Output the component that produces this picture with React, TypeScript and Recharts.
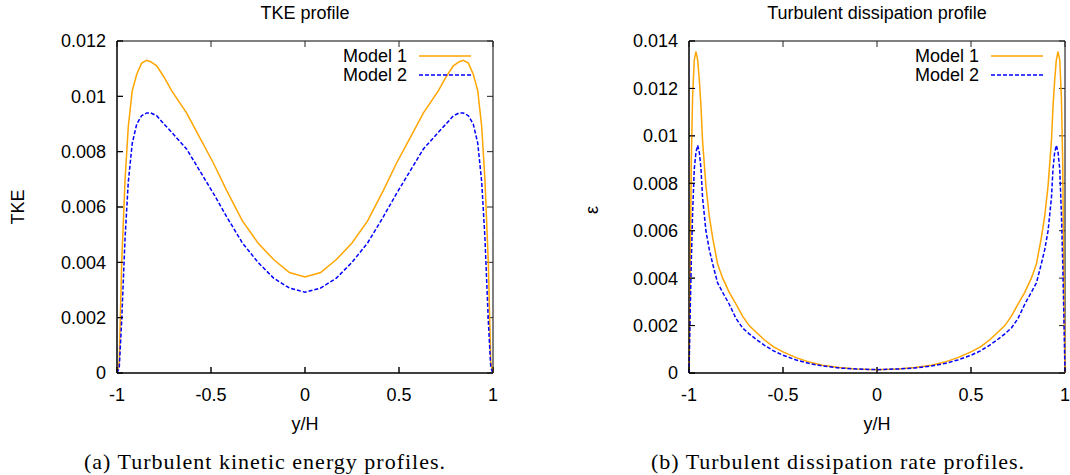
import React from 'react';
import { LineChart, Line, XAxis, YAxis, Legend, ReferenceArea, ReferenceLine } from 'recharts';

// TKE profile (left panel)
const tkePos = [
  -1, -0.988, -0.975, -0.957, -0.94, -0.919, -0.895, -0.869, -0.842, -0.821, -0.789,
  -0.75, -0.709, -0.63, -0.559, -0.488, -0.417, -0.333, -0.25, -0.167, -0.083, 0,
  0.083, 0.167, 0.25, 0.333, 0.417, 0.488, 0.559, 0.63, 0.709, 0.75, 0.789, 0.821,
  0.842, 0.869, 0.895, 0.919, 0.94, 0.957, 0.975, 0.988, 1,
];
const tkeModel1 = [
  0, 0.0004, 0.004, 0.007, 0.0089, 0.0102, 0.0108, 0.0112, 0.0113, 0.01125, 0.0111,
  0.0107, 0.0102, 0.0094, 0.0085, 0.0076, 0.0066, 0.0055, 0.0047, 0.0041, 0.00363, 0.00347,
  0.00363, 0.0041, 0.0047, 0.0055, 0.0066, 0.0076, 0.0085, 0.0094, 0.0102, 0.0107, 0.0111, 0.01125,
  0.0113, 0.0112, 0.0108, 0.0102, 0.0089, 0.007, 0.004, 0.0004, 0,
];
const tkeModel2 = [
  0, 0.0002, 0.0019, 0.0049, 0.0069, 0.0083, 0.009, 0.0093, 0.0094, 0.0094, 0.0093,
  0.009, 0.0087, 0.0081, 0.0073, 0.0065, 0.00565, 0.0047, 0.004, 0.00343, 0.00307, 0.00292,
  0.00307, 0.00343, 0.004, 0.0047, 0.00565, 0.0065, 0.0073, 0.0081, 0.0087, 0.009, 0.0093, 0.0094,
  0.0094, 0.0093, 0.009, 0.0083, 0.0069, 0.0049, 0.0019, 0.0002, 0,
];
const tkeTicks = [0, 0.002, 0.004, 0.006, 0.008, 0.01, 0.012];

// dissipation profile (right panel)
const epsPos = [
  -1, -0.993, -0.988, -0.981, -0.972, -0.963, -0.954, -0.945, -0.936, -0.928, -0.91,
  -0.892, -0.874, -0.848, -0.821, -0.786, -0.75, -0.715, -0.68, -0.64, -0.6, -0.55,
  -0.5, -0.43, -0.36, -0.29, -0.2, -0.11, 0,
  0.11, 0.2, 0.29, 0.36, 0.43, 0.5, 0.55, 0.6, 0.64, 0.68, 0.715, 0.75, 0.786, 0.821,
  0.848, 0.874, 0.892, 0.91, 0.928, 0.936, 0.945, 0.954, 0.963, 0.972, 0.981, 0.988, 0.993, 1,
];
const epsModel1 = [
  0, 0.0046, 0.0088, 0.0116, 0.0132, 0.01355, 0.0132, 0.01235, 0.0112, 0.0098, 0.0079,
  0.0066, 0.0057, 0.0046, 0.004, 0.0034, 0.0029, 0.0024, 0.002, 0.0017, 0.0014, 0.0011,
  0.00089, 0.00065, 0.00046, 0.00033, 0.00023, 0.00017, 0.00014,
  0.00017, 0.00023, 0.00033, 0.00046, 0.00065, 0.00089, 0.0011, 0.0014, 0.0017, 0.002, 0.0024, 0.0029, 0.0034, 0.004,
  0.0046, 0.0057, 0.0066, 0.0079, 0.0098, 0.0112, 0.01235, 0.0132, 0.01355, 0.0132, 0.0116, 0.0088, 0.0046, 0,
];
const epsModel2 = [
  0, 0.0028, 0.0046, 0.0067, 0.0086, 0.0093, 0.0096, 0.0093, 0.0086, 0.0074, 0.006,
  0.0052, 0.0046, 0.0038, 0.0034, 0.0029, 0.0023, 0.0019, 0.00165, 0.0014, 0.00118, 0.00093,
  0.00075, 0.00055, 0.0004, 0.0003, 0.00021, 0.00017, 0.00014,
  0.00017, 0.00021, 0.0003, 0.0004, 0.00055, 0.00075, 0.00093, 0.00118, 0.0014, 0.00165, 0.0019, 0.0023, 0.0029, 0.0034,
  0.0038, 0.0046, 0.0052, 0.006, 0.0074, 0.0086, 0.0093, 0.0096, 0.0093, 0.0086, 0.0067, 0.0046, 0.0028, 0,
];
const epsTicks = [0, 0.002, 0.004, 0.006, 0.008, 0.01, 0.012, 0.014];

const posTicks = [-1, -0.5, 0, 0.5, 1];
const seriesNames = ['Model 1', 'Model 2'];

const ORANGE = '#ffa500';
const BLUE = '#0000ff';
const DASH = '4 2';
const FONT = '"Liberation Sans", Arial, Helvetica, sans-serif';
const SERIF = '"Liberation Serif", "Times New Roman", serif';

const PLOT_W = 376;
const PLOT_H = 332;
const TICK_LEN = 6;

const makeRows = (xs: number[], a: number[], b: number[]) =>
  xs.map((x, i) => ({ x, m1: a[i], m2: b[i] }));

function LegendBox() {
  return (
    <svg width={160} height={40} style={{ display: 'block' }}>
      {seriesNames.map((name, i) => {
        const y = 10 + i * 19;
        return (
          <g key={name}>
            <text x={96} y={y} textAnchor="end" dominantBaseline="central"
              style={{ fontFamily: FONT, fontSize: 18, fill: '#000' }}>{name}</text>
            <line x1={108} x2={160} y1={y} y2={y} stroke={i === 0 ? ORANGE : BLUE}
              strokeWidth={1.5} strokeDasharray={i === 0 ? undefined : DASH} />
          </g>
        );
      })}
    </svg>
  );
}

interface PanelProps {
  left: number;
  width: number;
  yAxisWidth: number;
  marginRight: number;
  rows: { x: number; m1: number; m2: number }[];
  yMax: number;
  yTicks: number[];
}

function Panel({ left, width, yAxisWidth, marginRight, rows, yMax, yTicks }: PanelProps) {
  const plotRight = width - marginRight;
  const tickStyle = { fill: '#000', fontSize: 18, fontFamily: FONT };
  // inward tick length in data units (gnuplot style ticks on all four sides)
  const dy = (yMax * TICK_LEN) / PLOT_H;
  const dx = (2 * TICK_LEN) / PLOT_W;
  const tickSegs: { x: number; y: number }[][] = [
    ...posTicks.map((x) => [{ x, y: 0 }, { x, y: dy }]),
    ...posTicks.map((x) => [{ x, y: yMax }, { x, y: yMax - dy }]),
    ...yTicks.map((y) => [{ x: -1, y }, { x: -1 + dx, y }]),
    ...yTicks.map((y) => [{ x: 1, y }, { x: 1 - dx, y }]),
  ];
  return (
    <div style={{ position: 'absolute', left, top: 0 }}>
      <LineChart width={width} height={475} data={rows}
        margin={{ top: 41, right: marginRight, bottom: 0, left: 0 }}>
        <XAxis dataKey="x" type="number" domain={[-1, 1]} ticks={posTicks} interval={0}
          height={102} tickSize={-6} tickMargin={21} stroke="#000" tick={tickStyle} />
        <YAxis type="number" domain={[0, yMax]} ticks={yTicks} interval={0}
          width={yAxisWidth} tickSize={-6} tickMargin={17} stroke="#000" tick={tickStyle} />
        <ReferenceArea x1={-1} x2={1} y1={0} y2={yMax} fill="none" fillOpacity={0}
          stroke="#000" strokeWidth={1} strokeOpacity={1} />
        {tickSegs.map((seg, i) => (
          <ReferenceLine key={i} segment={seg} stroke="#222" strokeWidth={1} />
        ))}
        <Legend layout="vertical" align="center" verticalAlign="middle"
          wrapperStyle={{ left: plotRight - 22 - 160, top: 46, width: 160, height: 40 }}
          content={() => <LegendBox />} />
        <Line type="linear" dataKey="m1" name={seriesNames[0]} stroke={ORANGE}
          strokeWidth={1.5} dot={false} isAnimationActive={false} />
        <Line type="linear" dataKey="m2" name={seriesNames[1]} stroke={BLUE}
          strokeWidth={1.5} strokeDasharray={DASH} dot={false} isAnimationActive={false} />
      </LineChart>
    </div>
  );
}

const centered = (x: number, y: number, extra: React.CSSProperties = {}): React.CSSProperties => ({
  position: 'absolute', left: x, top: y, transform: 'translate(-50%, -50%)',
  whiteSpace: 'nowrap', fontFamily: FONT, fontSize: 18, color: '#000', lineHeight: 1, ...extra,
});

export default function App() {
  return (
    <div style={{ position: 'absolute', left: 0, top: 0, width: 1070, height: 475 }}>
      <Panel left={0} width={540} yAxisWidth={117} marginRight={47}
        rows={makeRows(tkePos, tkeModel1, tkeModel2)} yMax={0.012} yTicks={tkeTicks} />
      <Panel left={540} width={530} yAxisWidth={149} marginRight={5}
        rows={makeRows(epsPos, epsModel1, epsModel2)} yMax={0.014} yTicks={epsTicks} />

      <div style={centered(305, 13)}>TKE profile</div>
      <div style={centered(877, 13)}>Turbulent dissipation profile</div>
      <div style={centered(18, 207, { transform: 'translate(-50%, -50%) rotate(-90deg)' })}>TKE</div>
      <div style={centered(592, 210, { transform: 'translate(-50%, -50%) rotate(-90deg)' })}>ε</div>
      <div style={centered(305, 424)}>y/H</div>
      <div style={centered(877, 424)}>y/H</div>
      <div style={centered(265, 462, { fontFamily: SERIF, fontSize: 22, letterSpacing: 1 })}>
        (a) Turbulent kinetic energy profiles.
      </div>
      <div style={centered(838, 462, { fontFamily: SERIF, fontSize: 22, letterSpacing: 1 })}>
        (b) Turbulent dissipation rate profiles.
      </div>
    </div>
  );
}
